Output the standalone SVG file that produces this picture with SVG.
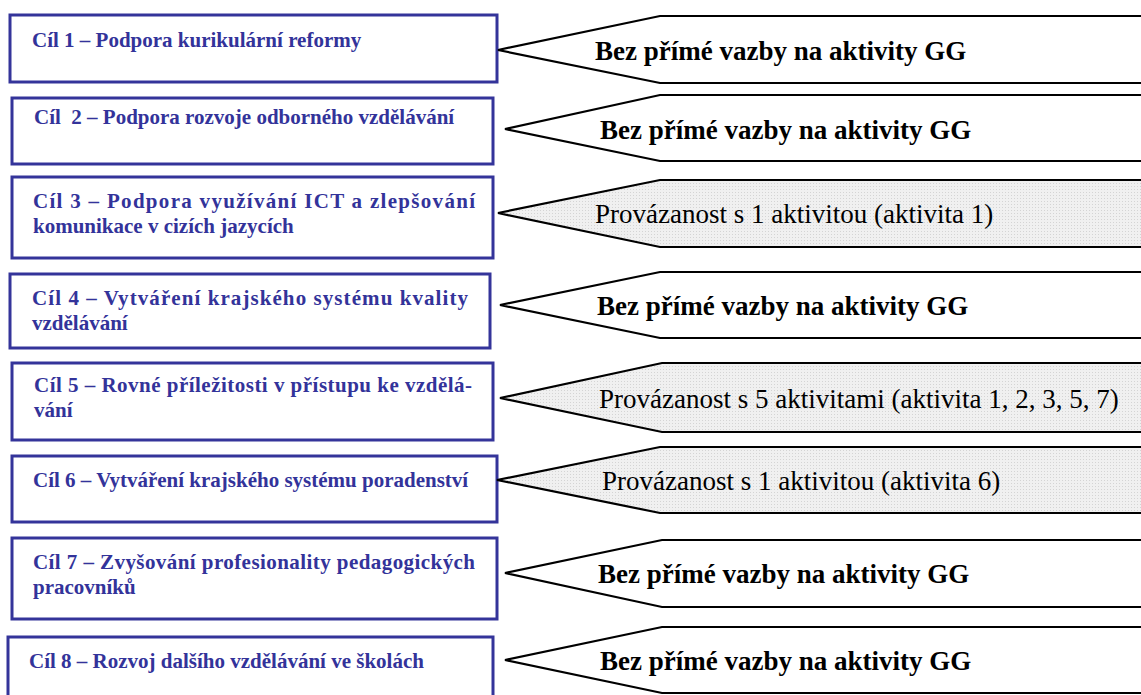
<svg xmlns="http://www.w3.org/2000/svg" width="1141" height="695" viewBox="0 0 1141 695">
<defs>
<pattern id="dots" width="3" height="3" patternUnits="userSpaceOnUse">
<rect width="3" height="3" fill="#f0f0f0"/>
<rect width="1" height="1" fill="#d4d4d4"/>
</pattern>
<style>
.box{fill:#ffffff;stroke:#34349a;stroke-width:3}
.bt{font-family:"Liberation Serif","Times New Roman",serif;font-weight:bold;font-size:21px;fill:#33339a}
.arr{fill:#ffffff;stroke:#000000;stroke-width:2.2;stroke-linejoin:miter}
.arrg{fill:url(#dots);stroke:#000000;stroke-width:2.2;stroke-linejoin:miter}
.ab{font-family:"Liberation Serif","Times New Roman",serif;font-weight:bold;font-size:27px;fill:#000000}
.an{font-family:"Liberation Serif","Times New Roman",serif;font-size:27px;fill:#000000}
</style>
</defs>
<rect width="1141" height="695" fill="#ffffff"/>
<g id="connectors"/>
<g id="goal1"><rect class="box" x="10" y="15" width="487" height="67"/><text class="bt" x="32" y="47">Cíl 1 – Podpora kurikulární reformy</text></g>
<g id="goal2"><rect class="box" x="12" y="98" width="481" height="66"/><text class="bt" x="34" y="124" style="white-space:pre">Cíl  2 – Podpora rozvoje odborného vzdělávání</text></g>
<g id="goal3"><rect class="box" x="12" y="177" width="481" height="81"/><text class="bt" x="33" y="208" textLength="442" lengthAdjust="spacing">Cíl 3 – Podpora využívání ICT a zlepšování</text><text class="bt" x="33" y="233">komunikace v cizích jazycích</text></g>
<g id="goal4"><rect class="box" x="10" y="274" width="480" height="74"/><text class="bt" x="32" y="305" textLength="436" lengthAdjust="spacing">Cíl 4 – Vytváření krajského systému kvality</text><text class="bt" x="32" y="330">vzdělávání</text></g>
<g id="goal5"><rect class="box" x="12" y="363" width="481" height="77"/><text class="bt" x="34" y="392" textLength="438" lengthAdjust="spacing">Cíl 5 – Rovné příležitosti v přístupu ke vzdělá-</text><text class="bt" x="34" y="417">vání</text></g>
<g id="goal6"><rect class="box" x="12" y="456" width="485" height="66"/><text class="bt" x="33" y="487">Cíl 6 – Vytváření krajského systému poradenství</text></g>
<g id="goal7"><rect class="box" x="12" y="538" width="485" height="81"/><text class="bt" x="33" y="569" textLength="442" lengthAdjust="spacing">Cíl 7 – Zvyšování profesionality pedagogických</text><text class="bt" x="33" y="594">pracovníků</text></g>
<g id="goal8"><rect class="box" x="8" y="637" width="485" height="70"/><text class="bt" x="29" y="668">Cíl 8 – Rozvoj dalšího vzdělávání ve školách</text></g>
<g id="link1"><polygon class="arr" points="498,50 660,16 1150,16 1150,83 660,83"/><text class="ab" x="595" y="60">Bez přímé vazby na aktivity GG</text></g>
<g id="link2"><polygon class="arr" points="505,129 660,95 1150,95 1150,161 660,161"/><text class="ab" x="600" y="139">Bez přímé vazby na aktivity GG</text></g>
<g id="link3"><polygon class="arrg" points="498,213 660,180 1150,180 1150,247 660,247"/><text class="an" x="595" y="223">Provázanost s 1 aktivitou (aktivita 1)</text></g>
<g id="link4"><polygon class="arr" points="500,305 660,272 1150,272 1150,338 660,338"/><text class="ab" x="597" y="315">Bez přímé vazby na aktivity GG</text></g>
<g id="link5"><polygon class="arrg" points="500,398 662,363 1150,363 1150,432 662,432"/><text class="an" x="599" y="408">Provázanost s 5 aktivitami (aktivita 1, 2, 3, 5, 7)</text></g>
<g id="link6"><polygon class="arrg" points="497,480 660,447 1150,447 1150,513 660,513"/><text class="an" x="602" y="490">Provázanost s 1 aktivitou (aktivita 6)</text></g>
<g id="link7"><polygon class="arr" points="505,573 662,540 1150,540 1150,607 662,607"/><text class="ab" x="598" y="583">Bez přímé vazby na aktivity GG</text></g>
<g id="link8"><polygon class="arr" points="505,660 662,627 1150,627 1150,693 662,693"/><text class="ab" x="600" y="670">Bez přímé vazby na aktivity GG</text></g>
</svg>
